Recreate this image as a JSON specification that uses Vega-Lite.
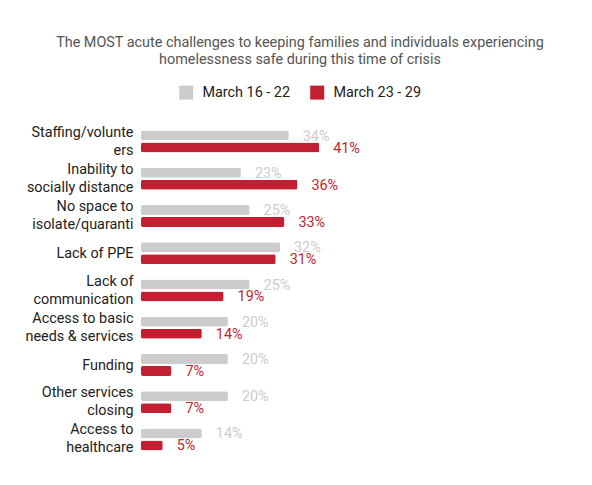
{
  "$schema": "https://vega.github.io/schema/vega-lite/v6.json",
  "width": 318,
  "height": 335,
  "autosize": {"type": "none"},
  "padding": {"left": 141, "top": 123, "right": 133, "bottom": 27},
  "background": "white",
  "config": {
    "font": "Roboto",
    "view": {"stroke": null}
  },
  "title": {
    "text": ["The MOST acute challenges to keeping families and individuals experiencing", "homelessness safe during this time of crisis"],
    "fontSize": 14.4,
    "fontWeight": "normal",
    "color": "#555555",
    "lineHeight": 17,
    "anchor": "middle",
    "offset": 18
  },
  "data": {
    "values": [
      {"category": "Staffing/volunte|ers", "period": "March 16 - 22", "value": 0.34},
      {"category": "Staffing/volunte|ers", "period": "March 23 - 29", "value": 0.41},
      {"category": "Inability to|socially distance", "period": "March 16 - 22", "value": 0.23},
      {"category": "Inability to|socially distance", "period": "March 23 - 29", "value": 0.36},
      {"category": "No space to|isolate/quaranti", "period": "March 16 - 22", "value": 0.25},
      {"category": "No space to|isolate/quaranti", "period": "March 23 - 29", "value": 0.33},
      {"category": "Lack of PPE", "period": "March 16 - 22", "value": 0.32},
      {"category": "Lack of PPE", "period": "March 23 - 29", "value": 0.31},
      {"category": "Lack of|communication", "period": "March 16 - 22", "value": 0.25},
      {"category": "Lack of|communication", "period": "March 23 - 29", "value": 0.19},
      {"category": "Access to basic|needs & services", "period": "March 16 - 22", "value": 0.20},
      {"category": "Access to basic|needs & services", "period": "March 23 - 29", "value": 0.14},
      {"category": "Funding", "period": "March 16 - 22", "value": 0.20},
      {"category": "Funding", "period": "March 23 - 29", "value": 0.07},
      {"category": "Other services|closing", "period": "March 16 - 22", "value": 0.20},
      {"category": "Other services|closing", "period": "March 23 - 29", "value": 0.07},
      {"category": "Access to|healthcare", "period": "March 16 - 22", "value": 0.14},
      {"category": "Access to|healthcare", "period": "March 23 - 29", "value": 0.05}
    ]
  },
  "encoding": {
    "y": {
      "field": "category",
      "type": "nominal",
      "sort": null,
      "scale": {"paddingInner": 0.356, "paddingOuter": 0.178},
      "axis": {
        "title": null,
        "domain": false,
        "ticks": false,
        "labelPadding": 8,
        "labelFontSize": 14.4,
        "labelColor": "#222222",
        "labelLineHeight": 18,
        "labelLimit": 200,
        "labelExpr": "split(datum.value, '|')",
        "labelOffset": {"condition": {"test": "indexof(datum.value, '|') >= 0", "value": -9}, "value": 1}
      }
    },
    "yOffset": {"field": "period", "type": "nominal", "scale": {"paddingInner": 0, "paddingOuter": 0}},
    "x": {
      "field": "value",
      "type": "quantitative",
      "scale": {"domain": [0, 0.7319]},
      "axis": null
    }
  },
  "layer": [
    {
      "mark": {"type": "bar", "size": 10, "cornerRadius": 2},
      "encoding": {
        "color": {
          "field": "period",
          "type": "nominal",
          "scale": {"domain": ["March 16 - 22", "March 23 - 29"], "range": ["#cccccc", "#c21f32"]},
          "legend": {
            "title": null,
            "orient": "none",
            "direction": "horizontal",
            "legendX": 38,
            "legendY": -38,
            "symbolType": "square",
            "symbolSize": 196,
            "symbolStrokeWidth": 0,
            "labelFontSize": 14.4,
            "labelColor": "#222222",
            "columnPadding": 19,
            "labelOffset": 9
          }
        }
      }
    },
    {
      "mark": {"type": "text", "align": "left", "baseline": "middle", "dx": 14, "dy": 1, "fontSize": 14.4},
      "encoding": {
        "text": {"field": "value", "type": "quantitative", "format": ".0%"},
        "color": {"field": "period", "type": "nominal", "scale": {"domain": ["March 16 - 22", "March 23 - 29"], "range": ["#d0d0d0", "#c8283a"]}, "legend": null}
      }
    }
  ]
}
